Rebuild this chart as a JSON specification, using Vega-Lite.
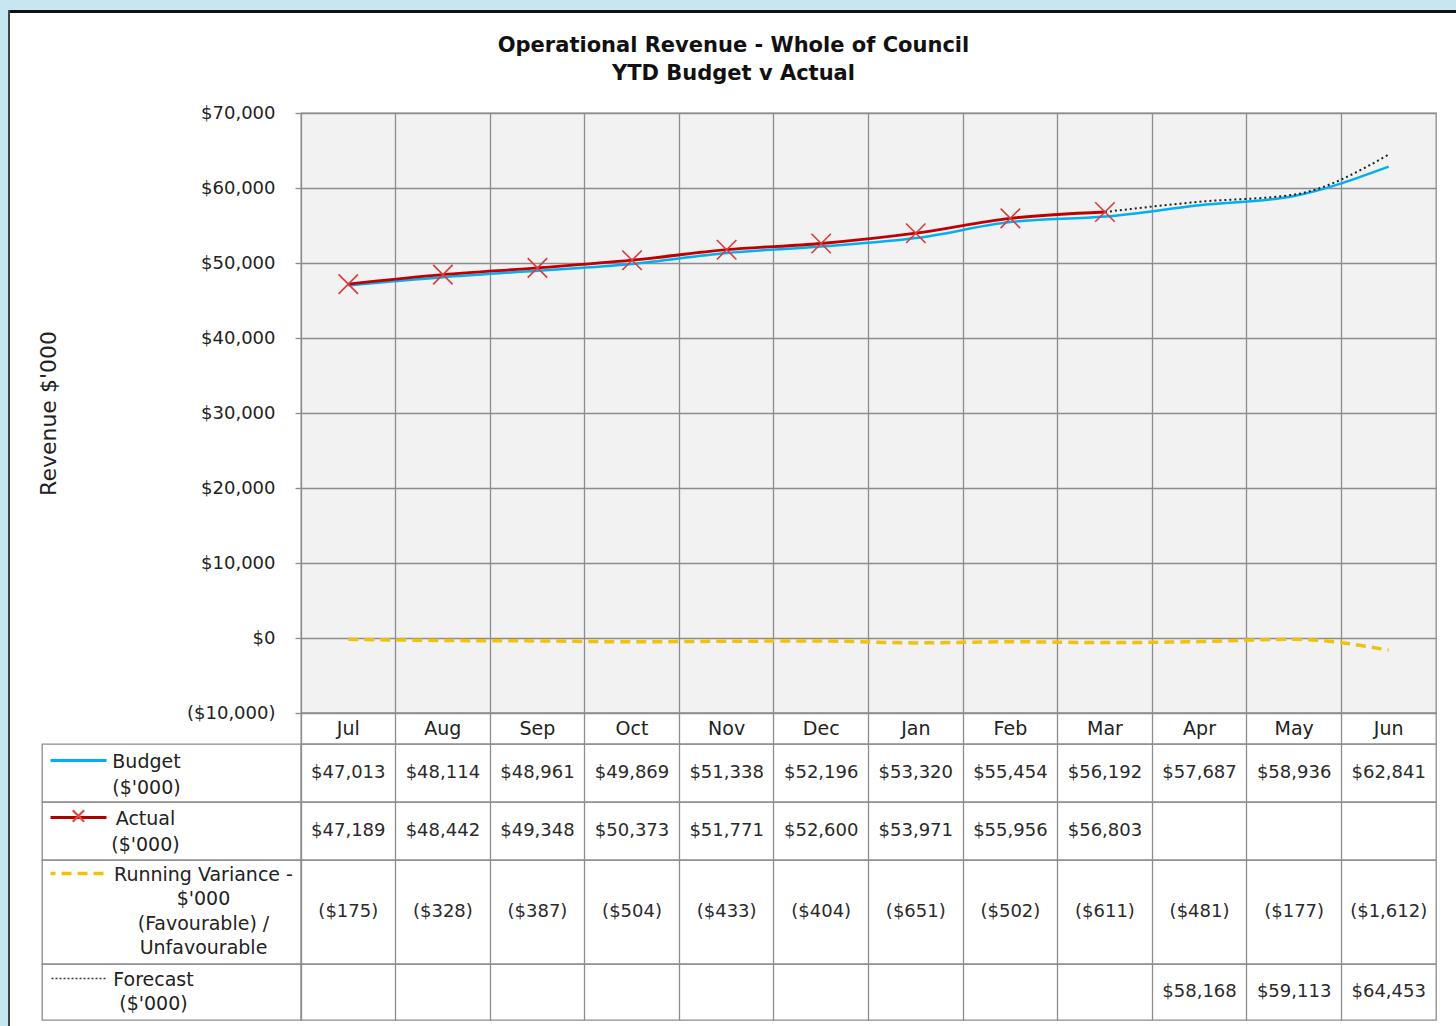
{
  "$schema": "https://vega.github.io/schema/vega-lite/v6.json",
  "padding": 0,
  "background": "white",
  "config": {"view": {"stroke": null}, "font": "DejaVu Sans", "text": {"font": "DejaVu Sans"}},
  "datasets": {
    "rows": [
      {"month": "Jul", "budget": 47013, "actual": 47189, "variance": -175, "forecast": null},
      {"month": "Aug", "budget": 48114, "actual": 48442, "variance": -328, "forecast": null},
      {"month": "Sep", "budget": 48961, "actual": 49348, "variance": -387, "forecast": null},
      {"month": "Oct", "budget": 49869, "actual": 50373, "variance": -504, "forecast": null},
      {"month": "Nov", "budget": 51338, "actual": 51771, "variance": -433, "forecast": null},
      {"month": "Dec", "budget": 52196, "actual": 52600, "variance": -404, "forecast": null},
      {"month": "Jan", "budget": 53320, "actual": 53971, "variance": -651, "forecast": null},
      {"month": "Feb", "budget": 55454, "actual": 55956, "variance": -502, "forecast": null},
      {"month": "Mar", "budget": 56192, "actual": 56803, "variance": -611, "forecast": null},
      {"month": "Apr", "budget": 57687, "actual": null, "variance": -481, "forecast": 58168},
      {"month": "May", "budget": 58936, "actual": null, "variance": -177, "forecast": 59113},
      {"month": "Jun", "budget": 62841, "actual": null, "variance": -1612, "forecast": 64453}
    ],
    "forecastLine": [
      {"month": "Mar", "value": 56803},
      {"month": "Apr", "value": 58168},
      {"month": "May", "value": 59113},
      {"month": "Jun", "value": 64453}
    ]
  },
  "spacing": 0,
  "bounds": "flush",
  "vconcat": [
    {"width": 1456, "height": 10, "data": {"values": []}, "mark": "point", "view": {"fill": "#c6e7f1", "stroke": null}},
    {
      "spacing": 0,
      "bounds": "flush",
      "hconcat": [
        {"width": 8, "height": 1016, "data": {"values": []}, "mark": "point", "view": {"fill": "#c6e7f1", "stroke": null}},
        {"width": 2, "height": 1016, "data": {"values": []}, "mark": "point", "view": {"fill": "#444444", "stroke": null}},
        {
          "spacing": 0,
          "bounds": "flush",
          "vconcat": [
            {"width": 1446, "height": 3, "data": {"values": []}, "mark": "point", "view": {"fill": "#111111", "stroke": null}},
            {"width": 1446, "height": 100, "data": {"values": []}, "mark": "point"},
            {
              "spacing": 0,
              "bounds": "flush",
              "hconcat": [
                {"width": 32, "height": 10, "data": {"values": []}, "mark": "point"},
                {
                  "columns": 2,
                  "spacing": 0,
                  "bounds": "flush",
                  "concat": [
                    {"width": 259, "height": 600, "data": {"values": []}, "mark": "point"},
                    {
                      "width": 1135,
                      "height": 600,
                      "title": {"text": ["Operational Revenue - Whole of Council", "YTD Budget v Actual"], "font": "DejaVu Sans", "fontSize": 21, "fontWeight": "bold", "color": "#111111", "anchor": "middle", "dx": -135, "offset": 20, "lineHeight": 28},
                      "view": {"fill": "#f2f2f2", "stroke": "#8c8c8c", "strokeWidth": 1.3},
                      "data": {"name": "rows"},
                      "encoding": {
                        "x": {"field": "month", "type": "ordinal", "bandPosition": 0.5,
                          "scale": {"type": "band", "domain": ["Jul","Aug","Sep","Oct","Nov","Dec","Jan","Feb","Mar","Apr","May","Jun"], "paddingInner": 0, "paddingOuter": 0},
                          "axis": {"grid": true, "bandPosition": 0, "gridColor": "#8c8c8c", "gridWidth": 1.3, "labels": false, "ticks": false, "domain": false, "title": null}}
                      },
                      "layer": [
                        {
                          "mark": {"type": "line", "color": "#f0c20c", "strokeWidth": 3.5, "strokeDash": [10, 6], "interpolate": "monotone"},
                          "encoding": {"y": {"field": "variance", "type": "quantitative",
                            "scale": {"domain": [-10000, 70000], "nice": false, "zero": false},
                            "axis": {"values": [-10000, 0, 10000, 20000, 30000, 40000, 50000, 60000, 70000], "format": "($,.0f", "grid": true, "gridColor": "#8c8c8c", "gridWidth": 1.3, "domain": false, "tickSize": 6, "tickColor": "#8c8c8c", "tickWidth": 1.3, "labelFont": "DejaVu Sans", "labelFontSize": 18, "labelColor": "#222222", "labelPadding": 20, "title": "Revenue $'000", "titleFont": "DejaVu Sans", "titleFontSize": 22, "titleFontWeight": "normal", "titleColor": "#222222", "titlePadding": 126}}}
                        },
                        {
                          "mark": {"type": "line", "color": "#00b0f0", "strokeWidth": 2.5, "interpolate": "monotone"},
                          "encoding": {"y": {"field": "budget", "type": "quantitative", "scale": {"domain": [-10000, 70000], "nice": false, "zero": false}}}
                        },
                        {
                          "mark": {"type": "line", "color": "#c00000", "strokeWidth": 2.8, "interpolate": "monotone"},
                          "encoding": {"y": {"field": "actual", "type": "quantitative", "scale": {"domain": [-10000, 70000], "nice": false, "zero": false}}}
                        },
                        {
                          "data": {"name": "forecastLine"},
                          "mark": {"type": "line", "color": "#222222", "strokeWidth": 2, "strokeDash": [2, 3], "interpolate": "monotone"},
                          "encoding": {"y": {"field": "value", "type": "quantitative", "scale": {"domain": [-10000, 70000], "nice": false, "zero": false}}}
                        },
                        {
                          "mark": {"type": "point", "shape": "M-1,-1L1,1M-1,1L1,-1", "filled": false, "color": "#d83c3c", "strokeWidth": 1.6, "size": 380, "opacity": 1},
                          "encoding": {"y": {"field": "actual", "type": "quantitative", "scale": {"domain": [-10000, 70000], "nice": false, "zero": false}}}
                        }
                      ]
                    },
                    {"width": 259, "height": 31, "data": {"values": []}, "mark": "point"},
                    {
                      "width": 1135,
                      "height": 31,
                      "data": {"name": "rows"},
                      "mark": {"type": "text", "fontSize": 19, "color": "#222222"},
                      "encoding": {
                        "x": {"field": "month", "type": "ordinal", "bandPosition": 0.5,
                          "scale": {"type": "band", "domain": ["Jul","Aug","Sep","Oct","Nov","Dec","Jan","Feb","Mar","Apr","May","Jun"], "paddingInner": 0, "paddingOuter": 0},
                          "axis": {"grid": true, "bandPosition": 0, "gridColor": "#8c8c8c", "gridWidth": 1.3, "labels": false, "ticks": false, "domain": false, "title": null}},
                        "text": {"field": "month", "type": "nominal"}
                      },
                      "view": {"stroke": "#8c8c8c", "strokeWidth": 1.3}
                    },
                    {"width": 259, "height": 58, "data": {"values": []}, "mark": "point", "view": {"stroke": "#8c8c8c", "strokeWidth": 1.3}},
                    {
                      "width": 1135,
                      "height": 58,
                      "data": {"name": "rows"},
                      "transform": [{"filter": "datum.budget != null"}],
                      "mark": {"type": "text", "fontSize": 18, "color": "#2a2a2a"},
                      "encoding": {
                        "x": {"field": "month", "type": "ordinal", "bandPosition": 0.5,
                          "scale": {"type": "band", "domain": ["Jul","Aug","Sep","Oct","Nov","Dec","Jan","Feb","Mar","Apr","May","Jun"], "paddingInner": 0, "paddingOuter": 0},
                          "axis": {"grid": true, "bandPosition": 0, "gridColor": "#8c8c8c", "gridWidth": 1.3, "labels": false, "ticks": false, "domain": false, "title": null}},
                        "y": {"datum": "Budget", "type": "nominal", "bandPosition": 0.5,
                          "scale": {"type": "band", "domain": ["Budget"], "paddingInner": 0, "paddingOuter": 0},
                          "axis": {"orient": "left", "offset": 195, "domain": false, "ticks": true, "tickSize": 56, "tickWidth": 3, "tickColor": "#00b0f0", "bandPosition": 0.276, "labels": false, "title": ["Budget", "($'000)"], "titleAngle": 0, "titleAlign": "center", "titleBaseline": "top", "titleX": 40, "titleY": 8, "titleFont": "DejaVu Sans", "titleFontSize": 19, "titleFontWeight": "normal", "titleColor": "#222222", "titleLineHeight": 26}},
                        "text": {"field": "budget", "type": "quantitative", "format": "$,.0f"}
                      },
                      "view": {"stroke": "#8c8c8c", "strokeWidth": 1.3}
                    },
                    {"width": 259, "height": 58, "data": {"values": []}, "mark": "point", "view": {"stroke": "#8c8c8c", "strokeWidth": 1.3}},
                    {
                      "width": 1135,
                      "height": 58,
                      "data": {"name": "rows"},
                      "transform": [{"filter": "datum.actual != null"}],
                      "mark": {"type": "text", "fontSize": 18, "color": "#2a2a2a"},
                      "encoding": {
                        "x": {"field": "month", "type": "ordinal", "bandPosition": 0.5,
                          "scale": {"type": "band", "domain": ["Jul","Aug","Sep","Oct","Nov","Dec","Jan","Feb","Mar","Apr","May","Jun"], "paddingInner": 0, "paddingOuter": 0},
                          "axis": {"grid": true, "bandPosition": 0, "gridColor": "#8c8c8c", "gridWidth": 1.3, "labels": false, "ticks": false, "domain": false, "title": null}},
                        "y": {"datum": "Actual", "type": "nominal", "bandPosition": 0.5,
                          "scale": {"type": "band", "domain": ["Actual"], "paddingInner": 0, "paddingOuter": 0},
                          "axis": {"orient": "left", "offset": 195, "domain": false, "ticks": true, "tickSize": 56, "tickWidth": 3, "tickColor": "#b00000", "bandPosition": 0.26, "labels": true, "labelExpr": "'✕'", "labelFont": "DejaVu Sans", "labelFontSize": 22, "labelColor": "#e04848", "labelAlign": "center", "labelBaseline": "middle", "labelPadding": -28, "labelOffset": -14, "labelBound": false, "labelOverlap": false, "title": ["Actual", "($'000)"], "titleAngle": 0, "titleAlign": "center", "titleBaseline": "top", "titleX": 39, "titleY": 7, "titleFont": "DejaVu Sans", "titleFontSize": 19, "titleFontWeight": "normal", "titleColor": "#222222", "titleLineHeight": 26}},
                        "text": {"field": "actual", "type": "quantitative", "format": "$,.0f"}
                      },
                      "view": {"stroke": "#8c8c8c", "strokeWidth": 1.3}
                    },
                    {"width": 259, "height": 104, "data": {"values": []}, "mark": "point", "view": {"stroke": "#8c8c8c", "strokeWidth": 1.3}},
                    {
                      "width": 1135,
                      "height": 104,
                      "data": {"name": "rows"},
                      "transform": [{"filter": "datum.variance != null"}],
                      "mark": {"type": "text", "fontSize": 18, "color": "#2a2a2a"},
                      "encoding": {
                        "x": {"field": "month", "type": "ordinal", "bandPosition": 0.5,
                          "scale": {"type": "band", "domain": ["Jul","Aug","Sep","Oct","Nov","Dec","Jan","Feb","Mar","Apr","May","Jun"], "paddingInner": 0, "paddingOuter": 0},
                          "axis": {"grid": true, "bandPosition": 0, "gridColor": "#8c8c8c", "gridWidth": 1.3, "labels": false, "ticks": false, "domain": false, "title": null}},
                        "y": {"datum": "Variance", "type": "nominal", "bandPosition": 0.5,
                          "scale": {"type": "band", "domain": ["Variance"], "paddingInner": 0, "paddingOuter": 0},
                          "axis": {"orient": "left", "offset": 198, "domain": false, "ticks": true, "tickSize": 53, "tickWidth": 3.5, "tickColor": "#f0c20c", "tickDash": [10, 6], "bandPosition": 0.125, "labels": false, "title": ["Running Variance -", "$'000", "(Favourable) /", "Unfavourable"], "titleAngle": 0, "titleAlign": "center", "titleBaseline": "top", "titleX": 100, "titleY": 5, "titleFont": "DejaVu Sans", "titleFontSize": 19, "titleFontWeight": "normal", "titleColor": "#222222", "titleLineHeight": 24.5}},
                        "text": {"field": "variance", "type": "quantitative", "format": "($,.0f"}
                      },
                      "view": {"stroke": "#8c8c8c", "strokeWidth": 1.3}
                    },
                    {"width": 259, "height": 56, "data": {"values": []}, "mark": "point", "view": {"stroke": "#8c8c8c", "strokeWidth": 1.3}},
                    {
                      "width": 1135,
                      "height": 56,
                      "data": {"name": "rows"},
                      "transform": [{"filter": "datum.forecast != null"}],
                      "mark": {"type": "text", "fontSize": 18, "color": "#2a2a2a"},
                      "encoding": {
                        "x": {"field": "month", "type": "ordinal", "bandPosition": 0.5,
                          "scale": {"type": "band", "domain": ["Jul","Aug","Sep","Oct","Nov","Dec","Jan","Feb","Mar","Apr","May","Jun"], "paddingInner": 0, "paddingOuter": 0},
                          "axis": {"grid": true, "bandPosition": 0, "gridColor": "#8c8c8c", "gridWidth": 1.3, "labels": false, "ticks": false, "domain": false, "title": null}},
                        "y": {"datum": "Forecast", "type": "nominal", "bandPosition": 0.5,
                          "scale": {"type": "band", "domain": ["Forecast"], "paddingInner": 0, "paddingOuter": 0},
                          "axis": {"orient": "left", "offset": 196, "domain": false, "ticks": true, "tickSize": 55, "tickWidth": 1.5, "tickColor": "#333333", "tickDash": [2, 2], "bandPosition": 0.25, "labels": false, "title": ["Forecast", "($'000)"], "titleAngle": 0, "titleAlign": "center", "titleBaseline": "top", "titleX": 48, "titleY": 6, "titleFont": "DejaVu Sans", "titleFontSize": 19, "titleFontWeight": "normal", "titleColor": "#222222", "titleLineHeight": 24}},
                        "text": {"field": "forecast", "type": "quantitative", "format": "$,.0f"}
                      },
                      "view": {"stroke": "#8c8c8c", "strokeWidth": 1.3}
                    }
                  ]
                }
              ]
            }
          ]
        }
      ]
    }
  ]
}
